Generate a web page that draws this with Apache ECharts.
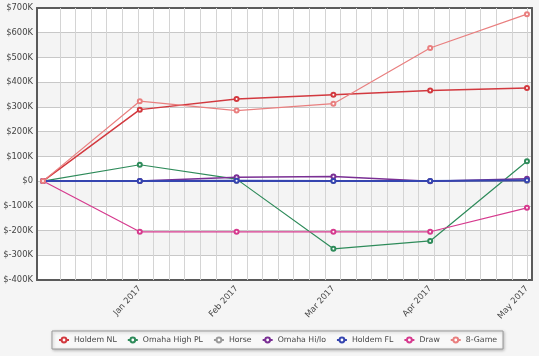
<!DOCTYPE html>
<html><head><meta charset="utf-8">
<script src="https://cdn.jsdelivr.net/npm/echarts@6/dist/echarts.min.js"></script>
<style>html,body{margin:0;padding:0;background:#f5f5f5;}#c{width:539px;height:356px;}</style>
</head><body><div id="c"></div>
<script>
const categories = ['Dec 2016','Jan 2017','Feb 2017','Mar 2017','Apr 2017','May 2017'];
const tickLabels = [1,2,3,4,5];
const seriesNames = ['Holdem NL','Omaha High PL','Horse','Omaha Hi/lo','Holdem FL','Draw','8-Game'];
const holdemNL = [0,289000,332000,349000,366000,376000];
const omahaHighPL = [0,66000,8000,-274000,-242000,80000];
const horse = [0,0,0,0,0,0];
const omahaHiLo = [0,0,16000,19000,-1000,9000];
const holdemFL = [0,0,1000,0,0,3000];
const draw = [0,-205000,-205000,-205000,-205000,-108000];
const eightGame = [0,323000,285000,313000,538000,675000];

const colors = ['#d2393f','#2e8b5a','#9a9a9a','#7a2f94','#3545b0','#d63a8e','#e97f7f'];
const widths = [1.5,1.2,1.2,1.5,2,1.2,1.2];
const values = [holdemNL, omahaHighPL, horse, omahaHiLo, holdemFL, draw, eightGame];

const font = 'DejaVu Sans, Verdana, sans-serif';
const chart = echarts.init(document.getElementById('c'), null, {renderer:'canvas'});
const frame = {show:true, onZero:false, lineStyle:{color:'#5a5a5a', width:2}};
chart.setOption({
  backgroundColor:'#f5f5f5',
  animation:false,
  grid:[
    {left:37, right:7, top:8, bottom:76, show:true, backgroundColor:'#fff', borderWidth:0},
    {left:60, right:11.6, top:8, bottom:76, show:false}
  ],
  xAxis:[
    {gridIndex:0, type:'value', min:-0.062, max:5.052, position:'bottom',
     axisLine:frame, axisTick:{show:false}, splitLine:{show:false},
     axisLabel:{customValues:tickLabels, formatter:v=>categories[Math.round(v)], rotate:48, margin:7,
       fontSize:8.4, color:'#444', fontFamily:font}},
    {gridIndex:0, type:'value', min:0, max:1, position:'top',
     axisLine:frame, axisTick:{show:false}, axisLabel:{show:false}, splitLine:{show:false}},
    {gridIndex:1, type:'value', min:0, max:30, interval:1,
     axisLine:{show:false}, axisTick:{show:false}, axisLabel:{show:false},
     splitLine:{show:true, lineStyle:{color:'#d4d4d4', width:1}}, z:1}
  ],
  yAxis:[
    {gridIndex:0, type:'value', min:-400000, max:700000, interval:100000, position:'left',
     axisLine:frame, axisTick:{show:false},
     axisLabel:{margin:4, fontSize:8.4, color:'#444', fontFamily:font,
       formatter:v=> v===0 ? '$0' : '$' + (v/1000) + 'K'},
     splitLine:{show:true, showMinLine:false, showMaxLine:false, lineStyle:{color:'#c8c8c8', width:1}},
     splitArea:{show:true, areaStyle:{color:['#ffffff','#f4f4f4']}}},
    {gridIndex:0, type:'value', min:0, max:1, position:'right',
     axisLine:frame, axisTick:{show:false}, axisLabel:{show:false}, splitLine:{show:false}},
    {gridIndex:1, type:'value', min:0, max:1, show:false}
  ],
  legend:{
    data:seriesNames, left:52, top:331, padding:[5,6,5,6], itemGap:10, itemWidth:10, itemHeight:6,
    backgroundColor:'#f8f8f8', borderColor:'#999', borderWidth:1,
    shadowBlur:3, shadowColor:'rgba(0,0,0,0.25)', shadowOffsetX:1, shadowOffsetY:1,
    itemStyle:{borderWidth:1},
    textStyle:{fontSize:7.8, color:'#444', fontFamily:font}
  },
  series: seriesNames.map((n,i)=>({
    name:n, type:'line', xAxisIndex:0, yAxisIndex:0,
    data: values[i].map((v,j)=>[j,v]),
    symbol:'emptyCircle', symbolSize:4, color:colors[i],
    lineStyle:{width:widths[i], color:colors[i]},
    itemStyle:{color:colors[i], borderWidth:0.9},
    z:2+i
  }))
});
</script></body></html>
